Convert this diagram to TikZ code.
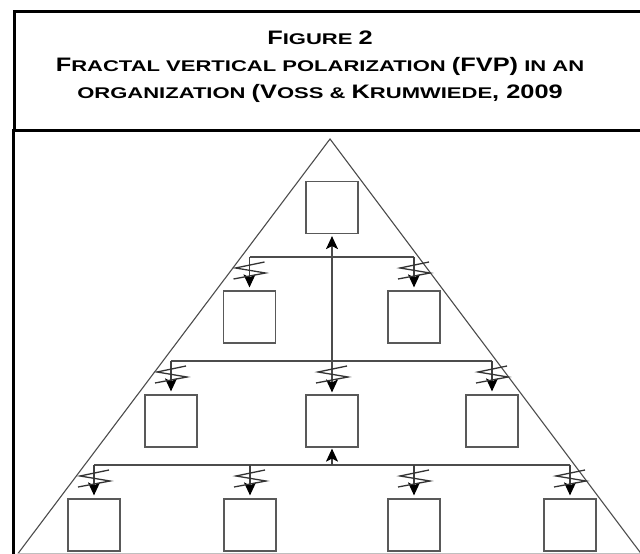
\documentclass[tikz,border=0pt]{standalone}
\usepackage{fontspec}
\usepackage{graphicx}
\setmainfont{Liberation Sans}
\usetikzlibrary{arrows.meta}

% wide fake small caps: small letters and larger capitals, both stretched
\newcommand\sm[1]{\scalebox{1.42}[1]{\fontsize{15.5}{20}\selectfont #1}}
\newcommand\capB[1]{\scalebox{1.3}[1]{\fontsize{19.5}{20}\selectfont #1}}

\tikzset{
  frame/.style={line width=3pt, black},
  pyr/.style={line width=1.1pt, black!70},
  unit/.style={draw=black!65, line width=1.2pt, minimum width=52pt, minimum height=52pt, inner sep=0pt},
  link/.style={line width=1.2pt, black!70},
  head/.tip={Stealth[length=13pt,width=12pt,inset=3pt,black]},
  arrowlink/.style={-head, line width=1.2pt, black!75},
  zig/.style={line width=1.3pt, black!80, line join=miter},
  titletext/.style={font=\bfseries, align=center, text=black}
}

% zigzag mark just below a bus line, centred on x = #1, starting at y = #2
\newcommand\zigmark[2]{%
  \draw[zig] (#1+15,#2+5) -- (#1-14,#2+11) -- (#1+16,#2+16) -- (#1-16,#2+22);}

\begin{document}
\begin{tikzpicture}[x=1pt,y=-1pt]
  \useasboundingbox (0,0) rectangle (640,554);

  % outer frame and title panel
  \draw[frame] (14,130) -- (14,11) -- (641,11);
  \draw[frame] (12,130) -- (641,130);
  \draw[frame] (13,130) -- (13,556);

  \node[titletext, anchor=base] (t1) at (320,44) {\capB{F}\sm{IGURE }\capB{2}};
  \node[titletext, anchor=base] (t2) at (320,71) {\capB{F}\sm{RACTAL VERTICAL POLARIZATION }\capB{(FVP)}\sm{ IN AN}};
  \node[titletext, anchor=base] (t3) at (320,98) {\sm{ORGANIZATION }\capB{(V}\sm{OSS \& }\capB{K}\sm{RUMWIEDE}\capB{, 2009}};

  % pyramid outline
  \coordinate (apex) at (330,139);
  \coordinate (bl) at (18,553.5);
  \coordinate (br) at (641,553.5);
  \draw[pyr] (bl) -- (apex) -- (br);
  \draw[black!25, line width=1pt] (bl) -- (br);

  % units, level by level
  \node[unit] (t)   at (332,207.5) {};
  \node[unit] (a1)  at (249.5,317) {};
  \node[unit] (a2)  at (414,317) {};
  \node[unit] (b1)  at (171,421) {};
  \node[unit] (b2)  at (332,421) {};
  \node[unit] (b3)  at (492,421) {};
  \node[unit] (c1)  at (94,525) {};
  \node[unit] (c2)  at (250,525) {};
  \node[unit] (c3)  at (414,525) {};
  \node[unit] (c4)  at (570,525) {};

  % bus lines
  \coordinate (h1l) at (249.5,257);
  \coordinate (h1r) at (414,257);
  \coordinate (h2l) at (171,361);
  \coordinate (h2r) at (492,361);
  \coordinate (h3l) at (94,465);
  \coordinate (h3r) at (570,465);
  \draw[link] (h1l) -- (h1r);
  \draw[link] (h2l) -- (h2r);
  \draw[link] (h3l) -- (h3r);

  % central spine: both ends arrowed
  \draw[link, head-head, shorten <=2pt, shorten >=2pt] (t.south) -- (b2.north);
  \zigmark{332}{361}

  % upward link from the lowest bus
  \coordinate (h3m) at (332,465);
  \draw[arrowlink, shorten >=1pt] (h3m) -- (b2.south);

  % downward links with zigzag marks
  \foreach \n/\bus in {a1/h1l, a2/h1r, b1/h2l, b3/h2r, c1/h3l, c2/h3l, c3/h3l, c4/h3r}{
    \draw[arrowlink, shorten >=3pt] (\n.north |- \bus) -- (\n.north);
  }
  \zigmark{249.5}{257}
  \zigmark{414}{257}
  \zigmark{171}{361}
  \zigmark{492}{361}
  \zigmark{94}{465}
  \zigmark{250}{465}
  \zigmark{414}{465}
  \zigmark{570}{465}
\end{tikzpicture}
\end{document}
